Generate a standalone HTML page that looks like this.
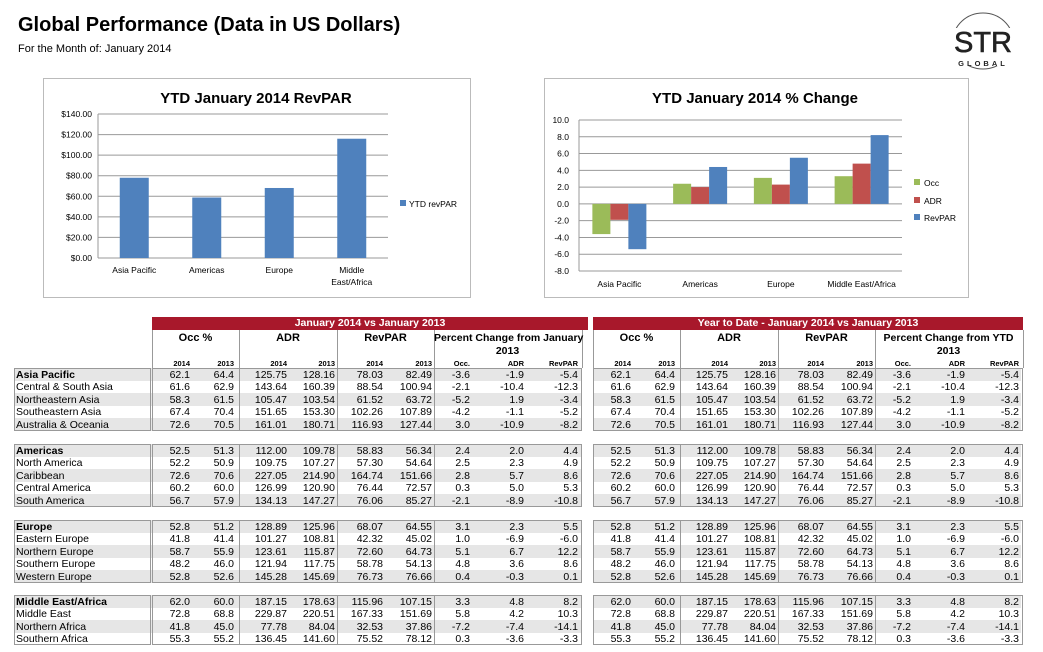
<!DOCTYPE html>
<html><head><meta charset="utf-8">
<style>
body{margin:0;width:1043px;height:652px;background:#fff;font-family:"Liberation Sans",sans-serif;position:relative;overflow:hidden;color:#000}
.abs{position:absolute}
.t{position:absolute;font-size:10.5px;line-height:12px;white-space:nowrap}
.r{text-align:right}
.hd{position:absolute;font-size:11px;font-weight:bold;text-align:center;white-space:nowrap}
.yr{position:absolute;font-size:7.5px;font-weight:bold;text-align:right;width:40px}
</style></head><body>
<div class="abs" style="left:18px;top:14px;font-size:20px;font-weight:bold">Global Performance (Data in US Dollars)</div>
<div class="abs" style="left:18px;top:43px;font-size:11px">For the Month of: January 2014</div>
<div class="abs" style="left:945px;top:10px;width:80px;height:62px">
<svg width="80" height="62"><ellipse cx="38" cy="31" rx="30" ry="28" fill="none" stroke="#555" stroke-width="1"/><rect x="2" y="18" width="74" height="38" fill="#fff"/>
<text x="38" y="42" font-family="Liberation Sans" font-size="29" text-anchor="middle" fill="#222" stroke="#222" stroke-width="0.6">STR</text>
<text x="38" y="56" font-family="Liberation Sans" font-size="7.5" font-weight="bold" letter-spacing="3" text-anchor="middle" fill="#222">GLOBAL</text></svg></div>

<svg class="abs" style="left:0;top:0" width="1043" height="310" id="charts"></svg>

<div id="tables"></div>

<script>
const cats1=["Asia Pacific","Americas","Europe","Middle East/Africa"];
const revpar=[78.03,58.83,68.07,115.96];
const ticks1=[0,20,40,60,80,100,120,140];
const occChg=[-3.6,2.4,3.1,3.3];
const adrChg=[-1.9,2.0,2.3,4.8];
const revChg=[-5.4,4.4,5.5,8.2];
const ticks2=[-8,-6,-4,-2,0,2,4,6,8,10];

const NS="http://www.w3.org/2000/svg";
const svg=document.getElementById('charts');
function mk(tag,attrs,txt){const e=document.createElementNS(NS,tag);for(const k in attrs)e.setAttribute(k,attrs[k]);if(txt!==undefined)e.textContent=txt;svg.appendChild(e);return e;}

let e;
e=mk('rect',{x:43.5,y:78.5,width:427,height:219,fill:'#fff',stroke:'#bbb'});


e=mk('text',{x:256,y:103,'font-size':15,'font-weight':'bold','text-anchor':'middle','font-family':'Liberation Sans'},'YTD January 2014 RevPAR');


const p1={x0:98,x1:388,y0:258,y1:114,max:140};
const y1=v=>p1.y0-(v/p1.max)*(p1.y0-p1.y1);
ticks1.forEach(t=>{
 e=mk('line',{x1:p1.x0,x2:p1.x1,y1:y1(t),y2:y1(t),stroke:'#999','stroke-width':1});
 
 
 e=mk('text',{x:p1.x0-6,y:y1(t)+3,'font-size':8.5,'text-anchor':'end','font-family':'Liberation Sans'},'$'+t.toFixed(2));
 
 
});
mk('line',{x1:p1.x0,x2:p1.x0,y1:p1.y1,y2:p1.y0,stroke:'#999'});
const step1=(p1.x1-p1.x0)/cats1.length;
cats1.forEach((c,i)=>{
 const cx=p1.x0+step1*(i+0.5);
 e=mk('rect',{x:cx-14.5,y:y1(revpar[i]),width:29,height:p1.y0-y1(revpar[i]),fill:'#4f81bd'});
 
 
 if(c==="Middle East/Africa"){
  e=mk('text',{x:cx,y:273,'font-size':8.5,'text-anchor':'middle','font-family':'Liberation Sans'},'Middle');
  
  
  e=mk('text',{x:cx,y:285,'font-size':8.5,'text-anchor':'middle','font-family':'Liberation Sans'},'East/Africa');
  
  
 } else {
  e=mk('text',{x:cx,y:273,'font-size':8.5,'text-anchor':'middle','font-family':'Liberation Sans'},c);
  
  
 }
});
e=mk('rect',{x:400,y:200,width:6,height:6,fill:'#4f81bd'});


e=mk('text',{x:409,y:207,'font-size':8.5,'font-family':'Liberation Sans'},'YTD revPAR');



e=mk('rect',{x:544.5,y:78.5,width:424,height:219,fill:'#fff',stroke:'#bbb'});


e=mk('text',{x:755,y:103,'font-size':15,'font-weight':'bold','text-anchor':'middle','font-family':'Liberation Sans'},'YTD January 2014 % Change');


const p2={x0:579,x1:902,top:120,bot:271,min:-8,max:10};
const y2=v=>p2.bot-(v-p2.min)/(p2.max-p2.min)*(p2.bot-p2.top);
ticks2.forEach(t=>{
 e=mk('line',{x1:p2.x0,x2:p2.x1,y1:y2(t),y2:y2(t),stroke:'#999','stroke-width':1});
 
 
 e=mk('text',{x:p2.x0-10,y:y2(t)+3,'font-size':8.5,'text-anchor':'end','font-family':'Liberation Sans'},t.toFixed(1));
 
 
});
mk('line',{x1:p2.x0,x2:p2.x0,y1:p2.top,y2:p2.bot,stroke:'#999'});
const step2=(p2.x1-p2.x0)/cats1.length;
const series=[[occChg,'#9bbb59','occ'],[adrChg,'#c0504d','adr'],[revChg,'#4f81bd','revpar']];
cats1.forEach((c,i)=>{
 const cx=p2.x0+step2*(i+0.5);
 series.forEach((s,j)=>{
  const v=s[0][i];const bx=cx-27+j*18;
  e=mk('rect',{x:bx,y:Math.min(y2(v),y2(0)),width:18,height:Math.abs(y2(v)-y2(0)),fill:s[1]});
  
  
 });
 e=mk('text',{x:cx,y:287,'font-size':8.5,'text-anchor':'middle','font-family':'Liberation Sans'},c);
 
 
});
[['Occ','#9bbb59',185],['ADR','#c0504d',203],['RevPAR','#4f81bd',220]].forEach(l=>{
 e=mk('rect',{x:914,y:l[2]-6,width:6,height:6,fill:l[1]});
 
 
 e=mk('text',{x:924,y:l[2]+1,'font-size':8.5,'font-family':'Liberation Sans'},l[0]);
 
 
});

const groups=[
 [["Asia Pacific",62.1,64.4,"125.75","128.16","78.03","82.49",-3.6,-1.9,-5.4],
  ["Central & South Asia",61.6,62.9,"143.64","160.39","88.54","100.94",-2.1,-10.4,-12.3],
  ["Northeastern Asia",58.3,61.5,"105.47","103.54","61.52","63.72",-5.2,1.9,-3.4],
  ["Southeastern Asia",67.4,70.4,"151.65","153.30","102.26","107.89",-4.2,-1.1,-5.2],
  ["Australia & Oceania",72.6,70.5,"161.01","180.71","116.93","127.44",3.0,-10.9,-8.2]],
 [["Americas",52.5,51.3,"112.00","109.78","58.83","56.34",2.4,2.0,4.4],
  ["North America",52.2,50.9,"109.75","107.27","57.30","54.64",2.5,2.3,4.9],
  ["Caribbean",72.6,70.6,"227.05","214.90","164.74","151.66",2.8,5.7,8.6],
  ["Central America",60.2,60.0,"126.99","120.90","76.44","72.57",0.3,5.0,5.3],
  ["South America",56.7,57.9,"134.13","147.27","76.06","85.27",-2.1,-8.9,-10.8]],
 [["Europe",52.8,51.2,"128.89","125.96","68.07","64.55",3.1,2.3,5.5],
  ["Eastern Europe",41.8,41.4,"101.27","108.81","42.32","45.02",1.0,-6.9,-6.0],
  ["Northern Europe",58.7,55.9,"123.61","115.87","72.60","64.73",5.1,6.7,12.2],
  ["Southern Europe",48.2,46.0,"121.94","117.75","58.78","54.13",4.8,3.6,8.6],
  ["Western Europe",52.8,52.6,"145.28","145.69","76.73","76.66",0.4,-0.3,0.1]],
 [["Middle East/Africa",62.0,60.0,"187.15","178.63","115.96","107.15",3.3,4.8,8.2],
  ["Middle East",72.8,68.8,"229.87","220.51","167.33","151.69",5.8,4.2,10.3],
  ["Northern Africa",41.8,45.0,"77.78","84.04","32.53","37.86",-7.2,-7.4,-14.1],
  ["Southern Africa",55.3,55.2,"136.45","141.60","75.52","78.12",0.3,-3.6,-3.3]]
];
const T=document.getElementById('tables');
function div(cls,style,txt){const d=document.createElement('div');d.className=cls;d.style.cssText=style;if(txt!==undefined)d.textContent=txt;T.appendChild(d);return d;}
const colR=[190,234,287,335,383,432,470,524,578];
const seps=[239,337,434];
const offs=[0,441];
const titles=["January 2014 vs January 2013","Year to Date - January 2014 vs January 2013"];
const pctT=["Percent Change from January","Percent Change from YTD"];
const groupTops=[368,444,520,595];
const RH=12.6;
offs.forEach((o,ti)=>{
 let d=div('abs',`left:${152+o}px;top:317px;width:${436-(ti?6:0)}px;height:13px;background:#a8182b;color:#fff;font-size:10.5px;font-weight:bold;text-align:center;line-height:13px`,titles[ti]);
 
 
 d=div('abs',`left:${152+o}px;top:330px;width:${429}px;height:38px;border-left:1px solid #999;border-right:1px solid #999`);
 
 
 seps.forEach(s=>{d=div('abs',`left:${s+o}px;top:330px;width:1px;height:38px;background:#999`);
  
  });
 [["Occ %",152,239],["ADR",239,337],["RevPAR",337,434]].forEach(h=>{
  d=div('hd',`left:${h[1]+o}px;top:332px;width:${h[2]-h[1]}px`,h[0]);
  
  });
 d=div('hd',`left:${434+o}px;top:332px;width:147px;font-size:10.5px`,pctT[ti]);
 
 
 d=div('hd',`left:${434+o}px;top:345px;width:147px;font-size:10.5px`,"2013");
 
 
 ["2014","2013","2014","2013","2014","2013","Occ.","ADR","RevPAR"].forEach((y,k)=>{
  d=div('yr',`left:${colR[k]+o-40}px;top:359px`,y);
  
  });
});
groups.forEach((g,gi)=>{
 const top=groupTops[gi];
 const h=g.length*RH;
 g.forEach((row,ri)=>{
  const ry=top+ri*RH;
  if(ri%2===0){
   let d=div('abs',`left:14px;top:${ry}px;width:567px;height:${RH}px;background:#e6e6e6`);
   
   
   d=div('abs',`left:593px;top:${ry}px;width:428px;height:${RH}px;background:#e6e6e6`);
   
   
  }
  let d=div('t',`left:16px;top:${ry+0.5}px;${ri===0?'font-weight:bold;':''}`,row[0]);
  
  
  offs.forEach(o=>{
   for(let k=0;k<9;k++){
    const v=row[k+1];
    const txt=typeof v==='number'?v.toFixed(1):v;
    d=div('t r',`left:${colR[k]+o-60}px;width:60px;top:${ry+0.5}px`,txt);
    
    
   }
  });
 });
 let d=div('abs',`left:14px;top:${top}px;width:137px;height:${h}px;border:1px solid #999;box-sizing:border-box`);
 
 
 offs.forEach(o=>{
  d=div('abs',`left:${152+o}px;top:${top}px;width:${430}px;height:${h}px;border:1px solid #999;box-sizing:border-box`);
  
  
  seps.forEach(s=>{d=div('abs',`left:${s+o}px;top:${top}px;width:1px;height:${h}px;background:#999`);
   
   });
 });
});
</script>
</body></html>
